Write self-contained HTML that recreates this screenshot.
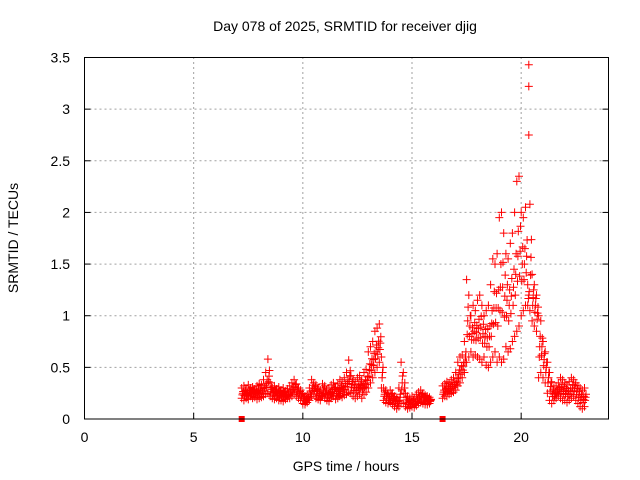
<!DOCTYPE html>
<html><head><meta charset="utf-8"><style>
body{margin:0;background:#fff;}
svg{display:block;font-family:"Liberation Sans",sans-serif;}
</style></head><body>
<svg id="chart" width="640" height="480" xmlns="http://www.w3.org/2000/svg">
<rect width="640" height="480" fill="#fff"/>
<text x="345" y="31" font-size="14" text-anchor="middle">Day 078 of 2025, SRMTID for receiver djig</text>
<text x="346" y="471" font-size="14" text-anchor="middle">GPS time / hours</text>
<text transform="translate(18,238) rotate(-90)" font-size="14" text-anchor="middle">SRMTID / TECUs</text>
<g id="grid"></g>
<g id="ticks"></g>
<g id="points"></g>
<rect x="84.5" y="57.5" width="524" height="361.5" fill="none" stroke="#000" stroke-width="1"/>
</svg>
<script>
const xTicks=[0,5,10,15,20];
const yTicks=[0,0.5,1,1.5,2,2.5,3,3.5];
const yTickLabels=["0","0.5","1","1.5","2","2.5","3","3.5"];
const seg1Start=7.2;
const seg1Hi=[.30,.32,.28,.33,.30,.31,.29,.32,
.34,.33,.38,.45,.58,.35,.30,.32,.29,.31,
.28,.30,.27,.29,.32,.35,.38,.34,.30,.28,
.25,.22,.24,.30,.38,.35,.33,.30,.28,.34,
.32,.28,.30,.33,.35,.30,.34,.38,.36,.40,
.45,.57,.42,.38,.36,.40,.42,.38,.45,.48,
.65,.70,.75,.85,.88,.92,.60,.30,.28,.25,
.28,.25,.22,.20,.30,.55,.45,.25,.22,.20,
.22,.20,.24,.26,.28,.25,.23,.22,.21];
const seg1Lo=[.20,.18,.20,.19,.22,.20,.21,.19,
.20,.21,.22,.24,.25,.22,.20,.19,.20,.18,
.18,.17,.19,.20,.20,.22,.24,.22,.20,.18,
.15,.14,.16,.18,.22,.24,.20,.19,.18,.22,
.20,.18,.17,.20,.22,.19,.20,.22,.21,.23,
.24,.26,.25,.22,.20,.22,.24,.20,.24,.26,
.30,.35,.40,.45,.50,.55,.30,.18,.16,.15,
.16,.14,.12,.10,.12,.15,.15,.12,.10,.11,
.12,.11,.13,.15,.16,.15,.14,.14,.15];
const seg2Start=16.4;
const seg2Hi=[.32,.34,.36,.35,.38,.40,
.45,.55,.60,.62,.75,1.35,1.20,1.00,1.10,1.05,
1.15,1.20,1.10,1.00,1.05,1.10,1.30,1.55,1.50,1.60,
1.95,2.00,1.80,1.60,1.55,1.70,1.80,2.00,2.30,2.35,
2.00,1.95,2.05,1.30,2.08,1.40,1.30,1.20,1.00,0.95,
.75,.65,.55,.45,.35,.30,.32,.35,.40,.38,
.35,.33,.36,.40,.38,.35,.32,.30,.28,.30];
const seg2Lo=[.20,.22,.22,.24,.25,.26,
.28,.32,.35,.40,.45,.55,.60,.65,.60,.62,
.60,.58,.55,.60,.52,.50,.55,.60,.65,.55,
.60,.55,.58,.70,.65,.68,.75,.80,.85,.90,
1.00,1.05,1.10,1.10,1.05,0.95,0.90,0.85,0.40,0.45,
.40,.35,.25,.18,.15,.18,.20,.22,.20,.18,
.18,.16,.18,.20,.22,.18,.15,.12,.10,.12];
const outlierTimes=[20.35,20.35,20.35];
const outlierValues=[3.43,3.22,2.75];
const zeroTimes=[7.2,16.4];

const X0=84.5,X1=608.5,Y0=419,Y1=57.5;
const xs=v=>X0+(v/24)*(X1-X0);
const ys=v=>Y0-(v/3.5)*(Y0-Y1);
const NS="http://www.w3.org/2000/svg";
function mk(tag,attrs,parent){const e=document.createElementNS(NS,tag);for(const k in attrs)e.setAttribute(k,attrs[k]);parent.appendChild(e);return e;}
const grid=document.getElementById('grid'),ticks=document.getElementById('ticks'),pts=document.getElementById('points');
xTicks.forEach(t=>{const x=xs(t);
 if(t>0){const g=mk('line',{x1:x,y1:Y0,x2:x,y2:Y1,stroke:'#a0a0a0','stroke-dasharray':'2,3'},grid);
 
 }
 const l=mk('line',{x1:x,y1:Y0,x2:x,y2:Y0-6,stroke:'#000'},ticks);
 
 
 const tx=mk('text',{x:x,y:442,'font-size':14,'text-anchor':'middle'},ticks);tx.textContent=String(t);
 
 
});
yTicks.forEach((t,i)=>{const y=ys(t);
 if(t>0&&t<3.5){const g=mk('line',{x1:X0,y1:y,x2:X1,y2:y,stroke:'#a0a0a0','stroke-dasharray':'2,3'},grid);
 
 }
 const l=mk('line',{x1:X0,y1:y,x2:X0+6,y2:y,stroke:'#000'},ticks);
 
 
 const r=mk('line',{x1:X1,y1:y,x2:X1-6,y2:y,stroke:'#000'},ticks);
 
 
 const tx=mk('text',{x:70,y:y+5,'font-size':14,'text-anchor':'end'},ticks);tx.textContent=yTickLabels[i];
 
 
});
let d='';
function plus(t,v){const x=xs(t),y=ys(v);d+=`M${(x-4).toFixed(1)} ${y.toFixed(1)}h8M${x.toFixed(1)} ${(y-4).toFixed(1)}v8`;}
function drawSeg(start,hi,lo){hi.forEach((h,i)=>{const t=start+i*0.1;const l=lo[i];
 plus(t,h);plus(t,l);plus(t+0.05,(h+l)/2);plus(t+0.03,(2*l+h)/3);plus(t+0.07,(l+2*h)/3);});}
drawSeg(seg1Start,seg1Hi,seg1Lo);
drawSeg(seg2Start,seg2Hi,seg2Lo);
outlierTimes.forEach((t,i)=>plus(t,outlierValues[i]));
const p=mk('path',{d:d,stroke:'#f00','stroke-width':1,fill:'none'},pts);


zeroTimes.forEach(t=>{const r=mk('rect',{x:xs(t)-3,y:Y0-3,width:6,height:6,fill:'#f00'},pts);
 
 });
</script>
</body></html>
